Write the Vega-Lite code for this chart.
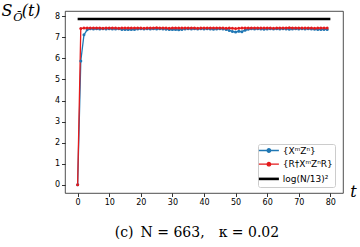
{
  "$schema": "https://vega.github.io/schema/vega-lite/v6.json",
  "width": 278,
  "height": 182,
  "autosize": {"type": "none"},
  "padding": {"left": 65, "top": 11, "right": 17, "bottom": 54},
  "background": "white",
  "title": {"text": "(c)\u2002N = 663,\u2002\u2002κ = 0.02", "orient": "bottom", "anchor": "middle", "font": "DejaVu Serif", "fontSize": 14, "fontWeight": "normal", "color": "#000", "offset": 19, "dx": -7},
  "config": {
    "view": {"stroke": "#222", "strokeWidth": 0.8},
    "axis": {"domain": false, "grid": false, "tickColor": "#000", "tickSize": 3.5, "tickWidth": 0.8, "labelFont": "DejaVu Sans", "labelFontSize": 8, "labelColor": "#000", "labelPadding": 2},
    "legend": {"fillColor": "rgba(255,255,255,0.85)", "strokeColor": "#cccccc", "cornerRadius": 2, "padding": 2, "rowPadding": 3.7, "symbolSize": 100, "symbolOffset": 4.4, "labelOffset": 9.4, "labelFont": "DejaVu Sans", "labelFontSize": 9, "labelColor": "#000"}
  },
  "datasets": {
    "series": [
      {"s": "{XᵐZⁿ}", "t": 0, "v": 0}, {"s": "{XᵐZⁿ}", "t": 1, "v": 5.88}, {"s": "{XᵐZⁿ}", "t": 2, "v": 7.12}, {"s": "{XᵐZⁿ}", "t": 3, "v": 7.36}, {"s": "{XᵐZⁿ}", "t": 4, "v": 7.41},
      {"s": "{XᵐZⁿ}", "t": 5, "v": 7.40}, {"s": "{XᵐZⁿ}", "t": 6, "v": 7.41}, {"s": "{XᵐZⁿ}", "t": 7, "v": 7.40}, {"s": "{XᵐZⁿ}", "t": 8, "v": 7.41}, {"s": "{XᵐZⁿ}", "t": 9, "v": 7.40},
      {"s": "{XᵐZⁿ}", "t": 10, "v": 7.41}, {"s": "{XᵐZⁿ}", "t": 11, "v": 7.40}, {"s": "{XᵐZⁿ}", "t": 12, "v": 7.40}, {"s": "{XᵐZⁿ}", "t": 13, "v": 7.41}, {"s": "{XᵐZⁿ}", "t": 14, "v": 7.38},
      {"s": "{XᵐZⁿ}", "t": 15, "v": 7.37}, {"s": "{XᵐZⁿ}", "t": 16, "v": 7.38}, {"s": "{XᵐZⁿ}", "t": 17, "v": 7.37}, {"s": "{XᵐZⁿ}", "t": 18, "v": 7.38}, {"s": "{XᵐZⁿ}", "t": 19, "v": 7.40},
      {"s": "{XᵐZⁿ}", "t": 20, "v": 7.41}, {"s": "{XᵐZⁿ}", "t": 21, "v": 7.40}, {"s": "{XᵐZⁿ}", "t": 22, "v": 7.41}, {"s": "{XᵐZⁿ}", "t": 23, "v": 7.40}, {"s": "{XᵐZⁿ}", "t": 24, "v": 7.41},
      {"s": "{XᵐZⁿ}", "t": 25, "v": 7.40}, {"s": "{XᵐZⁿ}", "t": 26, "v": 7.41}, {"s": "{XᵐZⁿ}", "t": 27, "v": 7.40}, {"s": "{XᵐZⁿ}", "t": 28, "v": 7.39}, {"s": "{XᵐZⁿ}", "t": 29, "v": 7.37},
      {"s": "{XᵐZⁿ}", "t": 30, "v": 7.38}, {"s": "{XᵐZⁿ}", "t": 31, "v": 7.37}, {"s": "{XᵐZⁿ}", "t": 32, "v": 7.36}, {"s": "{XᵐZⁿ}", "t": 33, "v": 7.38}, {"s": "{XᵐZⁿ}", "t": 34, "v": 7.40},
      {"s": "{XᵐZⁿ}", "t": 35, "v": 7.41}, {"s": "{XᵐZⁿ}", "t": 36, "v": 7.40}, {"s": "{XᵐZⁿ}", "t": 37, "v": 7.41}, {"s": "{XᵐZⁿ}", "t": 38, "v": 7.40}, {"s": "{XᵐZⁿ}", "t": 39, "v": 7.41},
      {"s": "{XᵐZⁿ}", "t": 40, "v": 7.40}, {"s": "{XᵐZⁿ}", "t": 41, "v": 7.41}, {"s": "{XᵐZⁿ}", "t": 42, "v": 7.40}, {"s": "{XᵐZⁿ}", "t": 43, "v": 7.39}, {"s": "{XᵐZⁿ}", "t": 44, "v": 7.40},
      {"s": "{XᵐZⁿ}", "t": 45, "v": 7.41}, {"s": "{XᵐZⁿ}", "t": 46, "v": 7.40}, {"s": "{XᵐZⁿ}", "t": 47, "v": 7.38}, {"s": "{XᵐZⁿ}", "t": 48, "v": 7.33}, {"s": "{XᵐZⁿ}", "t": 49, "v": 7.28},
      {"s": "{XᵐZⁿ}", "t": 50, "v": 7.25}, {"s": "{XᵐZⁿ}", "t": 51, "v": 7.29}, {"s": "{XᵐZⁿ}", "t": 52, "v": 7.27}, {"s": "{XᵐZⁿ}", "t": 53, "v": 7.34}, {"s": "{XᵐZⁿ}", "t": 54, "v": 7.39},
      {"s": "{XᵐZⁿ}", "t": 55, "v": 7.41}, {"s": "{XᵐZⁿ}", "t": 56, "v": 7.40}, {"s": "{XᵐZⁿ}", "t": 57, "v": 7.41}, {"s": "{XᵐZⁿ}", "t": 58, "v": 7.40}, {"s": "{XᵐZⁿ}", "t": 59, "v": 7.39},
      {"s": "{XᵐZⁿ}", "t": 60, "v": 7.40}, {"s": "{XᵐZⁿ}", "t": 61, "v": 7.41}, {"s": "{XᵐZⁿ}", "t": 62, "v": 7.40}, {"s": "{XᵐZⁿ}", "t": 63, "v": 7.41}, {"s": "{XᵐZⁿ}", "t": 64, "v": 7.40},
      {"s": "{XᵐZⁿ}", "t": 65, "v": 7.41}, {"s": "{XᵐZⁿ}", "t": 66, "v": 7.40}, {"s": "{XᵐZⁿ}", "t": 67, "v": 7.39}, {"s": "{XᵐZⁿ}", "t": 68, "v": 7.40}, {"s": "{XᵐZⁿ}", "t": 69, "v": 7.41},
      {"s": "{XᵐZⁿ}", "t": 70, "v": 7.40}, {"s": "{XᵐZⁿ}", "t": 71, "v": 7.41}, {"s": "{XᵐZⁿ}", "t": 72, "v": 7.40}, {"s": "{XᵐZⁿ}", "t": 73, "v": 7.41}, {"s": "{XᵐZⁿ}", "t": 74, "v": 7.40},
      {"s": "{XᵐZⁿ}", "t": 75, "v": 7.39}, {"s": "{XᵐZⁿ}", "t": 76, "v": 7.38}, {"s": "{XᵐZⁿ}", "t": 77, "v": 7.37}, {"s": "{XᵐZⁿ}", "t": 78, "v": 7.38}, {"s": "{XᵐZⁿ}", "t": 79, "v": 7.38},
      {"s": "{R†XᵐZⁿR}", "t": 0, "v": 0}, {"s": "{R†XᵐZⁿR}", "t": 1, "v": 7.42}, {"s": "{R†XᵐZⁿR}", "t": 2, "v": 7.44}, {"s": "{R†XᵐZⁿR}", "t": 3, "v": 7.45}, {"s": "{R†XᵐZⁿR}", "t": 4, "v": 7.44},
      {"s": "{R†XᵐZⁿR}", "t": 5, "v": 7.45}, {"s": "{R†XᵐZⁿR}", "t": 6, "v": 7.44}, {"s": "{R†XᵐZⁿR}", "t": 7, "v": 7.45}, {"s": "{R†XᵐZⁿR}", "t": 8, "v": 7.43}, {"s": "{R†XᵐZⁿR}", "t": 9, "v": 7.45},
      {"s": "{R†XᵐZⁿR}", "t": 10, "v": 7.44}, {"s": "{R†XᵐZⁿR}", "t": 11, "v": 7.45}, {"s": "{R†XᵐZⁿR}", "t": 12, "v": 7.44}, {"s": "{R†XᵐZⁿR}", "t": 13, "v": 7.43}, {"s": "{R†XᵐZⁿR}", "t": 14, "v": 7.45},
      {"s": "{R†XᵐZⁿR}", "t": 15, "v": 7.44}, {"s": "{R†XᵐZⁿR}", "t": 16, "v": 7.45}, {"s": "{R†XᵐZⁿR}", "t": 17, "v": 7.44}, {"s": "{R†XᵐZⁿR}", "t": 18, "v": 7.44}, {"s": "{R†XᵐZⁿR}", "t": 19, "v": 7.45},
      {"s": "{R†XᵐZⁿR}", "t": 20, "v": 7.44}, {"s": "{R†XᵐZⁿR}", "t": 21, "v": 7.43}, {"s": "{R†XᵐZⁿR}", "t": 22, "v": 7.45}, {"s": "{R†XᵐZⁿR}", "t": 23, "v": 7.44}, {"s": "{R†XᵐZⁿR}", "t": 24, "v": 7.45},
      {"s": "{R†XᵐZⁿR}", "t": 25, "v": 7.46}, {"s": "{R†XᵐZⁿR}", "t": 26, "v": 7.44}, {"s": "{R†XᵐZⁿR}", "t": 27, "v": 7.45}, {"s": "{R†XᵐZⁿR}", "t": 28, "v": 7.44}, {"s": "{R†XᵐZⁿR}", "t": 29, "v": 7.43},
      {"s": "{R†XᵐZⁿR}", "t": 30, "v": 7.44}, {"s": "{R†XᵐZⁿR}", "t": 31, "v": 7.45}, {"s": "{R†XᵐZⁿR}", "t": 32, "v": 7.44}, {"s": "{R†XᵐZⁿR}", "t": 33, "v": 7.44}, {"s": "{R†XᵐZⁿR}", "t": 34, "v": 7.45},
      {"s": "{R†XᵐZⁿR}", "t": 35, "v": 7.44}, {"s": "{R†XᵐZⁿR}", "t": 36, "v": 7.45}, {"s": "{R†XᵐZⁿR}", "t": 37, "v": 7.44}, {"s": "{R†XᵐZⁿR}", "t": 38, "v": 7.43}, {"s": "{R†XᵐZⁿR}", "t": 39, "v": 7.44},
      {"s": "{R†XᵐZⁿR}", "t": 40, "v": 7.45}, {"s": "{R†XᵐZⁿR}", "t": 41, "v": 7.44}, {"s": "{R†XᵐZⁿR}", "t": 42, "v": 7.45}, {"s": "{R†XᵐZⁿR}", "t": 43, "v": 7.44}, {"s": "{R†XᵐZⁿR}", "t": 44, "v": 7.44},
      {"s": "{R†XᵐZⁿR}", "t": 45, "v": 7.45}, {"s": "{R†XᵐZⁿR}", "t": 46, "v": 7.44}, {"s": "{R†XᵐZⁿR}", "t": 47, "v": 7.43}, {"s": "{R†XᵐZⁿR}", "t": 48, "v": 7.44}, {"s": "{R†XᵐZⁿR}", "t": 49, "v": 7.43},
      {"s": "{R†XᵐZⁿR}", "t": 50, "v": 7.42}, {"s": "{R†XᵐZⁿR}", "t": 51, "v": 7.43}, {"s": "{R†XᵐZⁿR}", "t": 52, "v": 7.44}, {"s": "{R†XᵐZⁿR}", "t": 53, "v": 7.45}, {"s": "{R†XᵐZⁿR}", "t": 54, "v": 7.44},
      {"s": "{R†XᵐZⁿR}", "t": 55, "v": 7.45}, {"s": "{R†XᵐZⁿR}", "t": 56, "v": 7.44}, {"s": "{R†XᵐZⁿR}", "t": 57, "v": 7.45}, {"s": "{R†XᵐZⁿR}", "t": 58, "v": 7.44}, {"s": "{R†XᵐZⁿR}", "t": 59, "v": 7.44},
      {"s": "{R†XᵐZⁿR}", "t": 60, "v": 7.45}, {"s": "{R†XᵐZⁿR}", "t": 61, "v": 7.44}, {"s": "{R†XᵐZⁿR}", "t": 62, "v": 7.43}, {"s": "{R†XᵐZⁿR}", "t": 63, "v": 7.44}, {"s": "{R†XᵐZⁿR}", "t": 64, "v": 7.45},
      {"s": "{R†XᵐZⁿR}", "t": 65, "v": 7.44}, {"s": "{R†XᵐZⁿR}", "t": 66, "v": 7.45}, {"s": "{R†XᵐZⁿR}", "t": 67, "v": 7.46}, {"s": "{R†XᵐZⁿR}", "t": 68, "v": 7.45}, {"s": "{R†XᵐZⁿR}", "t": 69, "v": 7.44},
      {"s": "{R†XᵐZⁿR}", "t": 70, "v": 7.45}, {"s": "{R†XᵐZⁿR}", "t": 71, "v": 7.44}, {"s": "{R†XᵐZⁿR}", "t": 72, "v": 7.44}, {"s": "{R†XᵐZⁿR}", "t": 73, "v": 7.45}, {"s": "{R†XᵐZⁿR}", "t": 74, "v": 7.44},
      {"s": "{R†XᵐZⁿR}", "t": 75, "v": 7.43}, {"s": "{R†XᵐZⁿR}", "t": 76, "v": 7.44}, {"s": "{R†XᵐZⁿR}", "t": 77, "v": 7.45}, {"s": "{R†XᵐZⁿR}", "t": 78, "v": 7.44}, {"s": "{R†XᵐZⁿR}", "t": 79, "v": 7.44}
    ],
    "bound": [
      {"s": "log(N/13)²", "t": 0, "v": 7.87},
      {"s": "log(N/13)²", "t": 80, "v": 7.87}
    ]
  },
  "layer": [
    {
      "data": {"name": "bound"},
      "mark": {"type": "line", "strokeWidth": 2.6},
      "encoding": {
        "x": {"field": "t", "type": "quantitative", "scale": {"domain": [-4, 84], "nice": false, "zero": false},
          "axis": {"values": [0, 10, 20, 30, 40, 50, 60, 70, 80], "title": "t", "titleFont": "DejaVu Serif", "titleFontStyle": "italic", "titleFontWeight": "normal", "titleFontSize": 16, "titleColor": "#000", "titleX": 288, "titleY": 3.5, "titleAlign": "center", "titleBaseline": "alphabetic"}},
        "y": {"field": "v", "type": "quantitative", "scale": {"domain": [-0.3935, 8.2535], "nice": false, "zero": false},
          "axis": {"values": [0, 1, 2, 3, 4, 5, 6, 7, 8], "title": "S", "titleFont": "DejaVu Serif", "titleFontStyle": "italic", "titleFontWeight": "normal", "titleFontSize": 16, "titleColor": "#000", "titleAngle": 0, "titleX": -64, "titleY": 4.7, "titleAlign": "left", "titleBaseline": "alphabetic"}},
        "color": {"field": "s", "type": "nominal", "title": null,
          "scale": {"domain": ["{XᵐZⁿ}", "{R†XᵐZⁿR}", "log(N/13)²"], "range": ["#1f77b4", "#e41a1c", "#000000"]},
          "legend": {"orient": "none", "legendX": 193, "legendY": 133,
            "encode": {"symbols": {"update": {
              "shape": {"signal": "datum.value === 'log(N/13)²' ? 'M-2,0H2' : 'M-2,0H2M-0.35,0A0.35,0.35 0 1,1 0.35,0A0.35,0.35 0 1,1 -0.35,0Z'"},
              "strokeWidth": {"signal": "datum.value === 'log(N/13)²' ? 2.6 : 1.3"},
              "fill": {"scale": "color", "field": "value"},
              "stroke": {"scale": "color", "field": "value"},
              "opacity": {"value": 1}
            }}}}}
      }
    },
    {
      "data": {"name": "series"},
      "mark": {"type": "line", "strokeWidth": 1.3, "point": {"filled": true, "size": 9}},
      "encoding": {
        "x": {"field": "t", "type": "quantitative",
          "axis": {"values": [0, 10, 20, 30, 40, 50, 60, 70, 80], "title": "t", "titleFont": "DejaVu Serif", "titleFontStyle": "italic", "titleFontWeight": "normal", "titleFontSize": 16, "titleColor": "#000", "titleX": 288, "titleY": 3.5, "titleAlign": "center", "titleBaseline": "alphabetic"}},
        "y": {"field": "v", "type": "quantitative",
          "axis": {"values": [0, 1, 2, 3, 4, 5, 6, 7, 8], "title": "S", "titleFont": "DejaVu Serif", "titleFontStyle": "italic", "titleFontWeight": "normal", "titleFontSize": 16, "titleColor": "#000", "titleAngle": 0, "titleX": -64, "titleY": 4.7, "titleAlign": "left", "titleBaseline": "alphabetic"}},
        "color": {"field": "s", "type": "nominal", "title": null}
      }
    },
    {
      "data": {"values": [{"txt": "Ō"}]},
      "mark": {"type": "text", "font": "DejaVu Serif", "fontStyle": "italic", "fontSize": 11.5, "align": "left", "baseline": "alphabetic", "color": "#000", "clip": false},
      "encoding": {
        "x": {"datum": -20.37, "type": "quantitative",
          "axis": {"values": [0, 10, 20, 30, 40, 50, 60, 70, 80], "title": "t", "titleFont": "DejaVu Serif", "titleFontStyle": "italic", "titleFontWeight": "normal", "titleFontSize": 16, "titleColor": "#000", "titleX": 288, "titleY": 3.5, "titleAlign": "center", "titleBaseline": "alphabetic"}},
        "y": {"datum": 7.79, "type": "quantitative",
          "axis": {"values": [0, 1, 2, 3, 4, 5, 6, 7, 8], "title": "S", "titleFont": "DejaVu Serif", "titleFontStyle": "italic", "titleFontWeight": "normal", "titleFontSize": 16, "titleColor": "#000", "titleAngle": 0, "titleX": -64, "titleY": 4.7, "titleAlign": "left", "titleBaseline": "alphabetic"}},
        "text": {"field": "txt", "type": "nominal"}
      }
    },
    {
      "data": {"values": [{"txt": "(t)"}]},
      "mark": {"type": "text", "font": "DejaVu Serif", "fontStyle": "italic", "fontSize": 16, "align": "left", "baseline": "alphabetic", "color": "#000", "clip": false},
      "encoding": {
        "x": {"datum": -17.71, "type": "quantitative",
          "axis": {"values": [0, 10, 20, 30, 40, 50, 60, 70, 80], "title": "t", "titleFont": "DejaVu Serif", "titleFontStyle": "italic", "titleFontWeight": "normal", "titleFontSize": 16, "titleColor": "#000", "titleX": 288, "titleY": 3.5, "titleAlign": "center", "titleBaseline": "alphabetic"}},
        "y": {"datum": 8.03, "type": "quantitative",
          "axis": {"values": [0, 1, 2, 3, 4, 5, 6, 7, 8], "title": "S", "titleFont": "DejaVu Serif", "titleFontStyle": "italic", "titleFontWeight": "normal", "titleFontSize": 16, "titleColor": "#000", "titleAngle": 0, "titleX": -64, "titleY": 4.7, "titleAlign": "left", "titleBaseline": "alphabetic"}},
        "text": {"field": "txt", "type": "nominal"}
      }
    }
  ]
}
